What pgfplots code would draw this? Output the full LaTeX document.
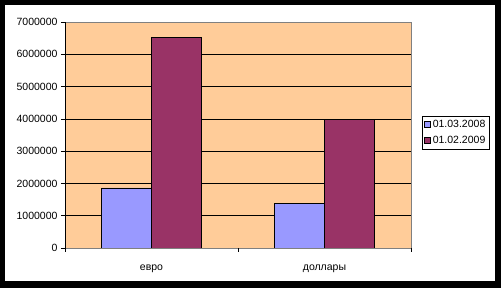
\documentclass[border=0pt]{standalone}
\usepackage{pgfplots}
\pgfplotsset{compat=1.18}
\usepackage{fontspec}
\setmainfont{Liberation Sans}
\definecolor{cA}{HTML}{9999FF}
\definecolor{cB}{HTML}{993366}
\definecolor{peach}{HTML}{FFCC99}
\begin{document}
\begin{tikzpicture}[x=1pt,y=1pt]
\fill[black] (0,0) rectangle (501,288);
\fill[white] (5,7) rectangle (495,283);
\begin{axis}[
  at={(65pt,40pt)}, anchor=south west,
  scale only axis, width=346pt, height=226pt,
  xmin=-0.5, xmax=1.5, ymin=0, ymax=7000000,
  ytick distance=1000000,
  scaled y ticks=false,
  yticklabel style={/pgf/number format/fixed, /pgf/number format/precision=0, /pgf/number format/1000 sep={}, /pgf/number format/assume math mode=true, font=\fontsize{10.5}{12}\selectfont},
  xtick={0,1}, xticklabels={евро,доллары},
  xticklabel style={font=\fontsize{10.5}{12}\selectfont, yshift=-9pt},
  xtick style={draw=none},
  extra x ticks={-0.5,0.5,1.5}, extra x tick labels={},
  extra x tick style={xtick style={draw=black}, major tick length=4pt, tick align=outside, grid=none},
  ymajorgrids, grid style={black, line width=0.7pt},
  major tick length=4pt, tick align=outside, tick pos=left,
  ytick style={black, line width=0.6pt},
  axis line style={draw=gray, line width=0.7pt},
  axis background/.style={fill=peach},
  ybar=0pt, bar width=0.289,
  legend style={at={(1.0318,0.584)}, anchor=north west, draw=black, line width=0.6pt,
    font=\fontsize{10.5}{12}\selectfont, inner sep=2pt, row sep=3pt, cells={anchor=west}},
  legend image code/.code={\draw[#1, line width=0.5pt] (0pt,-3pt) rectangle (6pt,3pt);},
]
\addplot[fill=cA, draw=black, line width=0.6pt] coordinates {(0,1860000) (1,1390000)};
\addplot[fill=cB, draw=black, line width=0.6pt] coordinates {(0,6530000) (1,3990000)};
\legend{01.03.2008,01.02.2009}
\draw[black, line width=0.7pt] (rel axis cs:0,1) -- (rel axis cs:0,0) -- (rel axis cs:1,0);
\end{axis}
\end{tikzpicture}
\end{document}
